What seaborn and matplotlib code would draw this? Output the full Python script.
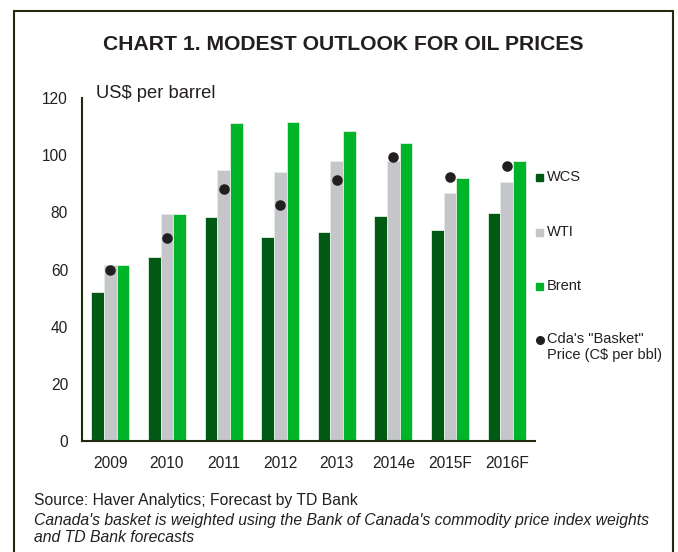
import matplotlib
matplotlib.use("Agg")
import matplotlib.pyplot as plt
import seaborn as sns
import pandas as pd
from matplotlib.patches import Rectangle
from matplotlib.lines import Line2D

years = ["2009", "2010", "2011", "2012", "2013", "2014e", "2015F", "2016F"]
wcs = [52.0, 64.5, 78.3, 71.5, 73.2, 78.7, 73.9, 79.8]
wti = [61.7, 79.3, 94.9, 94.1, 97.9, 97.8, 86.6, 90.6]
brent = [61.7, 79.5, 111.3, 111.6, 108.6, 104.3, 91.9, 98.0]
basket = [60.0, 70.9, 88.0, 82.6, 91.2, 99.4, 92.2, 96.2]
series_names = ["WCS", "WTI", "Brent"]
basket_label = "Cda's \"Basket\"\nPrice (C$ per bbl)"

colors = {"WCS": "#005a14", "WTI": "#c4c6ca", "Brent": "#00b42a"}
dot_color = "#231f20"
frame_color = "#1f2a10"
text_color = "#231f20"

df = pd.DataFrame({
    "year": years * 3,
    "series": ["WCS"] * 8 + ["WTI"] * 8 + ["Brent"] * 8,
    "price": wcs + wti + brent,
})
dfb = pd.DataFrame({"year": years, "basket": basket})

sns.set_theme(style="white")
plt.rcParams["font.family"] = ["Liberation Sans", "DejaVu Sans"]

fig = plt.figure(figsize=(6.78, 5.52), dpi=100)
ax = fig.add_axes([82 / 678, 1 - 441 / 552, (535 - 82) / 678, (441 - 98) / 552])

sns.barplot(data=df, x="year", y="price", hue="series", order=years,
            hue_order=series_names, palette=colors, width=0.67, gap=0,
            saturation=1, edgecolor="#e4efe4", linewidth=0.6, legend=False, ax=ax)
sns.stripplot(data=dfb, x="year", y="basket", order=years, jitter=False,
              color=dot_color, size=7.6, linewidth=0, ax=ax, zorder=5)

ax.set_xlim(-0.5, 7.5)
ax.set_ylim(0, 120)
ax.set_yticks(range(0, 121, 20))
ax.set_xlabel("")
ax.set_ylabel("")
ax.tick_params(axis="both", length=0, labelsize=11.2, colors=text_color)
ax.tick_params(axis="y", pad=10)
ax.tick_params(axis="x", pad=11)
for s in ["top", "right"]:
    ax.spines[s].set_visible(False)
for s in ["left", "bottom"]:
    ax.spines[s].set_color(frame_color)
    ax.spines[s].set_linewidth(1.5)

# figure frame (left, top, right)
fig.add_artist(Line2D([14 / 678, 14 / 678], [0, 1 - 11 / 552], transform=fig.transFigure,
                      color=frame_color, lw=1.5))
fig.add_artist(Line2D([14 / 678, 673 / 678], [1 - 11 / 552, 1 - 11 / 552], transform=fig.transFigure,
                      color=frame_color, lw=1.5))
fig.add_artist(Line2D([673 / 678, 673 / 678], [0, 1 - 11 / 552], transform=fig.transFigure,
                      color=frame_color, lw=1.5))

fig.text(343 / 678, 1 - 44 / 552, "CHART 1. MODEST OUTLOOK FOR OIL PRICES",
         ha="center", va="center", fontsize=15.2, fontweight="bold", color=text_color)
fig.text(96 / 678, 1 - 93 / 552, "US$ per barrel", ha="left", va="center",
         fontsize=13.2, color=text_color)

# legend (manual)
leg_y = [177, 232, 286]
for name, y in zip(series_names, leg_y):
    fig.add_artist(Rectangle((536 / 678, 1 - (y + 3.5) / 552), 7 / 678, 7 / 552,
                             transform=fig.transFigure, color=colors[name]))
    fig.text(547 / 678, 1 - y / 552, name, ha="left", va="center", fontsize=10.5,
             color=text_color)
fig.add_artist(Line2D([539.5 / 678], [1 - 340 / 552], transform=fig.transFigure,
                      marker="o", markersize=5.5, color=dot_color, lw=0))
fig.text(547 / 678, 1 - 332 / 552, basket_label, ha="left", va="top", fontsize=10.5,
         color=text_color, linespacing=1.15)

fig.text(34 / 678, 1 - 500 / 552, "Source: Haver Analytics; Forecast by TD Bank",
         ha="left", va="center", fontsize=11.3, color=text_color)
fig.text(34 / 678, 1 - 520 / 552,
         "Canada's basket is weighted using the Bank of Canada's commodity price index weights",
         ha="left", va="center", fontsize=11.3, style="italic", color=text_color)
fig.text(34 / 678, 1 - 538 / 552, "and TD Bank forecasts",
         ha="left", va="center", fontsize=11.3, style="italic", color=text_color)

fig.savefig("out.png", dpi=100)
